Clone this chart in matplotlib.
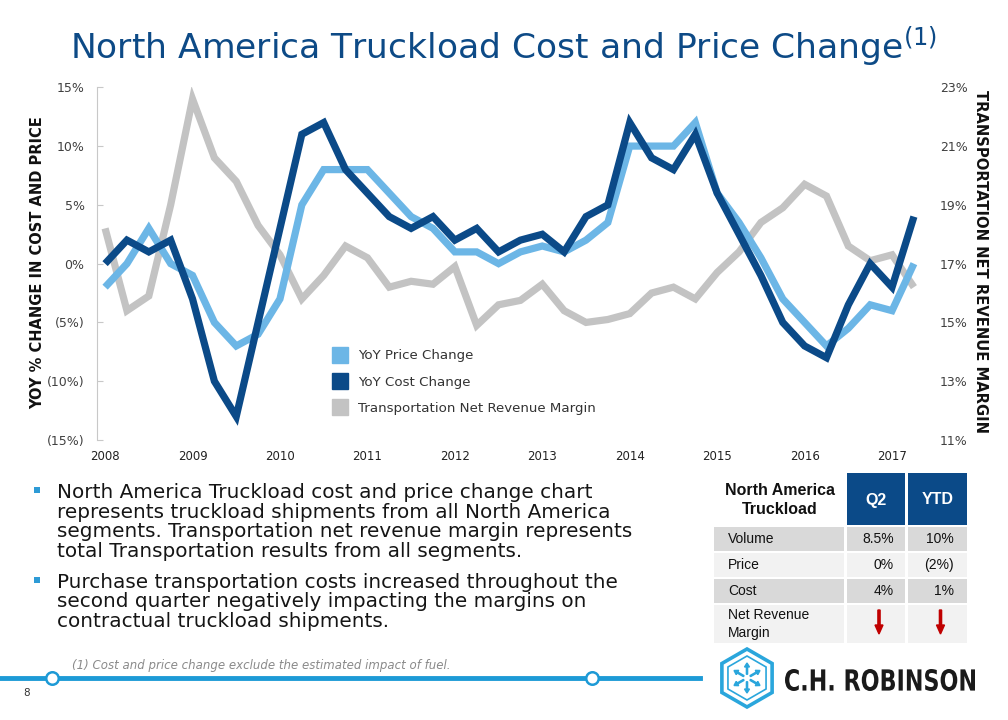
import math
import matplotlib
matplotlib.use("Agg")
import matplotlib.pyplot as plt
from matplotlib.patches import Rectangle, RegularPolygon, PathPatch, FancyArrow
from matplotlib.lines import Line2D
from matplotlib.textpath import TextPath
from matplotlib.font_manager import FontProperties
from matplotlib.transforms import Affine2D, IdentityTransform

# ---------------- data ----------------
quarters = ["2008Q1", "2008Q2", "2008Q3", "2008Q4", "2009Q1", "2009Q2", "2009Q3", "2009Q4",
            "2010Q1", "2010Q2", "2010Q3", "2010Q4", "2011Q1", "2011Q2", "2011Q3", "2011Q4",
            "2012Q1", "2012Q2", "2012Q3", "2012Q4", "2013Q1", "2013Q2", "2013Q3", "2013Q4",
            "2014Q1", "2014Q2", "2014Q3", "2014Q4", "2015Q1", "2015Q2", "2015Q3", "2015Q4",
            "2016Q1", "2016Q2", "2016Q3", "2016Q4", "2017Q1", "2017Q2"]
year_labels = ["2008", "2009", "2010", "2011", "2012", "2013", "2014", "2015", "2016", "2017"]

price_change = [-2, 0, 3, 0, -1, -5, -7, -6, -3, 5, 8, 8, 8, 6, 4, 3, 1, 1, 0, 1,
                1.5, 1, 2, 3.5, 10, 10, 10, 12, 6, 3.5, 0.5, -3, -5, -7, -5.5, -3.5, -4, 0]
cost_change = [0, 2, 1, 2, -3, -10, -13, -5, 3, 11, 12, 8, 6, 4, 3, 4, 2, 3, 1, 2,
               2.5, 1, 4, 5, 12, 9, 8, 11, 6, 2.5, -1, -5, -7, -8, -3.5, 0, -2, 4]
net_margin = [18.2, 15.4, 15.9, 19.0, 22.6, 20.6, 19.8, 18.3, 17.3, 15.8, 16.6, 17.6, 17.2,
              16.2, 16.4, 16.3, 16.9, 14.9, 15.6, 15.75, 16.3, 15.4, 15.0, 15.1, 15.3, 16.0,
              16.2, 15.8, 16.7, 17.4, 18.4, 18.9, 19.7, 19.3, 17.6, 17.1, 17.3, 16.2]

left_ticks = [-15, -10, -5, 0, 5, 10, 15]
left_tick_labels = ["(15%)", "(10%)", "(5%)", "0%", "5%", "10%", "15%"]
right_ticks = [11, 13, 15, 17, 19, 21, 23]
right_tick_labels = ["11%", "13%", "15%", "17%", "19%", "21%", "23%"]

series_names = ["YoY Price Change", "YoY Cost Change", "Transportation Net Revenue Margin"]

table_header = ["North America\nTruckload", "Q2", "YTD"]
table_rows = ["Volume", "Price", "Cost", "Net Revenue\nMargin"]
table_q2 = ["8.5%", "0%", "4%", None]
table_ytd = ["10%", "(2%)", "1%", None]

bullets = [
    ["North America Truckload cost and price change chart",
     "represents truckload shipments from all North America",
     "segments. Transportation net revenue margin represents",
     "total Transportation results from all segments."],
    ["Purchase transportation costs increased throughout the",
     "second quarter negatively impacting the margins on",
     "contractual truckload shipments."],
]

# ---------------- style ----------------
C_LIGHT = "#6cb6e6"
C_DARK = "#0b4a88"
C_GRAY = "#c3c3c3"
C_TITLE = "#0d4a86"
C_TEXT = "#333333"

W, H = 1008, 720
fig = plt.figure(figsize=(W / 100, H / 100), dpi=100)
fig.patch.set_facecolor("white")


def fx(x):
    return x / W


def fy(y):
    return 1 - y / H


def P(x, y):
    return (x, H - y)


# ---------------- chart ----------------
ax_l, ax_r, ax_t, ax_b = 97, 922, 87.3, 440
ax = fig.add_axes([fx(ax_l), fy(ax_b), (ax_r - ax_l) / W, (ax_b - ax_t) / H])
ax2 = ax.twinx()
ax.set_zorder(3)
ax2.set_zorder(2)
ax.patch.set_visible(False)

x = list(range(len(quarters)))
ax2.plot(x, net_margin, color=C_GRAY, lw=5.2, solid_joinstyle="miter", solid_capstyle="butt")
ax.plot(x, price_change, color=C_LIGHT, lw=5.2, solid_joinstyle="miter", solid_capstyle="butt")
ax.plot(x, cost_change, color=C_DARK, lw=5.2, solid_joinstyle="miter", solid_capstyle="butt")

ax.set_xlim(-0.37, len(quarters) - 1 + 0.37)
ax.set_ylim(-15, 15)
ax2.set_ylim(11, 23)

ax.set_xticks(x[::4])
ax.set_xticklabels(year_labels, fontsize=8.5, color="#222222")
ax.tick_params(axis="x", length=0, pad=7)
ax.set_yticks(left_ticks)
ax.set_yticklabels(left_tick_labels, fontsize=9, color="#404040")
ax.tick_params(axis="y", direction="in", length=4, color="#c8c8c8", pad=9)
ax2.set_yticks(right_ticks)
ax2.set_yticklabels(right_tick_labels, fontsize=9, color="#404040")
ax2.tick_params(axis="y", length=0, pad=13)

for a in (ax, ax2):
    for s in ("top", "right", "bottom"):
        a.spines[s].set_visible(False)
ax2.spines["left"].set_visible(False)
ax.spines["left"].set_color("#c8c8c8")
ax.spines["left"].set_linewidth(0.8)

handles = [Line2D([], [], ls="none", marker="s", markersize=11.5, color=c)
           for c in (C_LIGHT, C_DARK, C_GRAY)]
leg = ax.legend(handles, series_names, loc="upper left",
                bbox_to_anchor=(fx(327), fy(344)), bbox_transform=fig.transFigure,
                frameon=False, fontsize=9.6, labelspacing=1.0, handletextpad=0.75,
                handlelength=1.2, borderaxespad=0)
for t in leg.get_texts():
    t.set_color(C_TEXT)

fig.text(fx(38), fy(263), "YOY % CHANGE IN COST AND PRICE", rotation=90,
         fontsize=10.5, fontweight="bold", color="#111111", ha="center", va="center")
fig.text(fx(980), fy(261), "TRANSPORTATION NET REVENUE MARGIN", rotation=-90,
         fontsize=10.6, fontweight="bold", color="#111111", ha="center", va="center")

# ---------------- title ----------------
fig.text(fx(503.5), fy(47), "North America Truckload Cost and Price Change$^{(1)}$",
         fontsize=24.8, color=C_TITLE, ha="center", va="center")

# ---------------- bullets ----------------
baselines = [[498, 518, 537, 557], [588, 607, 627]]
for para, bls in zip(bullets, baselines):
    fig.add_artist(Rectangle(P(34, bls[0] - 5), 6, 6, transform=IdentityTransform(),
                             facecolor="#2e9bd6", edgecolor="none"))
    for line, b in zip(para, bls):
        fig.text(fx(57), fy(b), line, fontsize=14.4, color="#151515",
                 ha="left", va="baseline")

# ---------------- table ----------------
tf = "Liberation Sans"
col_x = [(714, 844), (847, 905), (908, 967)]
row_y = [(473, 525), (527, 551), (553, 577), (579, 603), (605, 643)]
row_colors = ["#d9d9d9", "#f2f2f2", "#d9d9d9", "#f2f2f2"]


def rect(x0, x1, y0, y1, color):
    fig.add_artist(Rectangle(P(x0, y1), x1 - x0, y1 - y0, transform=IdentityTransform(),
                             facecolor=color, edgecolor="none"))


rect(*col_x[1], *row_y[0], C_DARK)
rect(*col_x[2], *row_y[0], C_DARK)
fig.text(fx(780), fy(500), table_header[0], family=tf, fontsize=11.5, fontweight="bold",
         ha="center", va="center", color="#111111", linespacing=1.3)
fig.text(fx(876), fy(500), table_header[1], family=tf, fontsize=11.5, fontweight="bold",
         ha="center", va="center", color="white")
fig.text(fx(937.5), fy(500), table_header[2], family=tf, fontsize=11.5, fontweight="bold",
         ha="center", va="center", color="white")

for i, (lab, q2, ytd) in enumerate(zip(table_rows, table_q2, table_ytd)):
    y0, y1 = row_y[i + 1]
    for (c0, c1) in col_x:
        rect(c0, c1, y0, y1, row_colors[i])
    yc = (y0 + y1) / 2
    fig.text(fx(728), fy(yc), lab, family=tf, fontsize=10, ha="left", va="center",
             color="#111111", linespacing=1.35)
    if q2 is not None:
        fig.text(fx(894), fy(yc), q2, family=tf, fontsize=10, ha="right", va="center",
                 color="#111111")
        fig.text(fx(954), fy(yc), ytd, family=tf, fontsize=10, ha="right", va="center",
                 color="#111111")
    else:
        for ax_x in (879, 940.5):
            fig.add_artist(FancyArrow(ax_x, H - 610, 0, -24, width=2.2, head_width=8,
                                      head_length=9, length_includes_head=True,
                                      transform=IdentityTransform(), color="#c00000"))

# ---------------- footer ----------------
fig.text(fx(72), fy(665), "(1) Cost and price change exclude the estimated impact of fuel.",
         fontsize=8.5, style="italic", color="#8a8a8a", ha="left", va="center")
fig.add_artist(Line2D([0, fx(700)], [fy(678), fy(678)], transform=fig.transFigure,
                      color="#1d9ad6", lw=3.5))
for cx in (52, 592):
    fig.add_artist(Line2D([fx(cx)], [fy(678)], transform=fig.transFigure, marker="o",
                          markersize=9, markerfacecolor="white", markeredgecolor="#1d9ad6",
                          markeredgewidth=1.8))
fig.text(fx(27), fy(693), "8", fontsize=7.5, color="#333333", ha="center", va="center")

# ---------------- logo ----------------
LB = "#2aa6dc"
cxy = P(747, 678)
fig.add_artist(RegularPolygon(cxy, 6, radius=29, orientation=0, transform=IdentityTransform(),
                              facecolor="none", edgecolor=LB, lw=2.6))
fig.add_artist(RegularPolygon(cxy, 6, radius=22, orientation=0, transform=IdentityTransform(),
                              facecolor="none", edgecolor=LB, lw=1.2))
for ang in (90, 270, 30, 150, 210, 330):
    dx = 15 * math.cos(math.radians(ang))
    dy = 15 * math.sin(math.radians(ang))
    fig.add_artist(FancyArrow(cxy[0] + dx * 0.25, cxy[1] + dy * 0.25, dx * 0.75, dy * 0.75,
                              width=1.2, head_width=5, head_length=4,
                              length_includes_head=True, transform=IdentityTransform(),
                              color=LB))

tp = TextPath((0, 0), "C.H. ROBINSON", size=30,
              prop=FontProperties(family="DejaVu Sans", weight="bold"))
bb = tp.get_extents()
tx0, tx1, ty0, ty1 = 785, 975, 669, 691
sx = (tx1 - tx0) / bb.width
sy = (ty1 - ty0) / bb.height
tr = Affine2D().translate(-bb.x0, -bb.y0).scale(sx, sy).translate(tx0, H - ty1)
fig.add_artist(PathPatch(tp, transform=tr, facecolor="#1a1a1a", edgecolor="none"))

fig.savefig("out.png", dpi=100, facecolor="white")
